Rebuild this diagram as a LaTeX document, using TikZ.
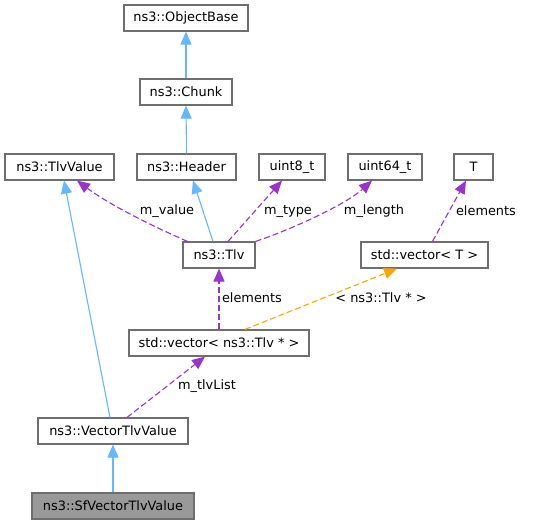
\documentclass[tikz,border=0pt]{standalone}
\usepackage{fontspec}
\setmainfont{DejaVu Sans}
\usetikzlibrary{arrows.meta,calc}
\definecolor{boxline}{HTML}{6E6E6E}
\definecolor{inh}{HTML}{63B8FF}
\definecolor{usage}{HTML}{9A32CD}
\definecolor{tmpl}{HTML}{FFA500}
\definecolor{curfill}{HTML}{999999}
\begin{document}
\begin{tikzpicture}[x=1pt,y=-1pt,
  cls/.style={draw=boxline,line width=1.2pt,fill=white,minimum height=26pt,inner sep=0pt,font=\fontsize{12.9}{15}\selectfont},
  lbl/.style={inner sep=0pt,font=\fontsize{12.9}{15}\selectfont},
  inhedge/.style={draw=inh,line width=1.1pt,-{Triangle[length=13pt,width=11pt,fill=inh]}},
  useedge/.style={draw=usage,line width=1.1pt,dash pattern=on 6pt off 3pt,-{Triangle[length=13pt,width=11pt,fill=usage]}},
  tmpledge/.style={draw=tmpl,line width=1.1pt,dash pattern=on 6pt off 3pt,-{Triangle[length=13pt,width=11pt,fill=tmpl]}}]
\useasboundingbox (0,0) rectangle (533,524);
\fill[white] (0,0) rectangle (533,524);
\node[cls,minimum width=124pt] (objbase) at (186,18) {ns3::ObjectBase};
\node[cls,minimum width=92pt] (chunk) at (186,92) {ns3::Chunk};
\node[cls,minimum width=109pt] (tlvvalue) at (59.5,167) {ns3::TlvValue};
\node[cls,minimum width=99pt] (header) at (186.5,167) {ns3::Header};
\node[cls,minimum width=66pt] (uinteight) at (292,167) {uint8\_t};
\node[cls,minimum width=74pt] (uintsixfour) at (385,167) {uint64\_t};
\node[cls,minimum width=39pt] (tpar) at (473.5,167) {T};
\node[cls,minimum width=72pt] (tlv) at (219,255) {ns3::Tlv};
\node[cls,minimum width=127pt] (vect) at (424.5,255) {std::vector< T >};
\node[cls,minimum width=180pt] (vectlv) at (219,343) {std::vector< ns3::Tlv * >};
\node[cls,minimum width=150pt] (vtv) at (113,431) {ns3::VectorTlvValue};
\node[cls,minimum width=162pt,fill=curfill] (sfvtv) at (113,506) {ns3::SfVectorTlvValue};

\draw[inhedge] (chunk.north) -- (objbase.south);
\draw[inhedge] (header.north) -- (chunk.south);
\draw[inhedge] ($(tlv.north)+(-6,0)$) -- ($(header.south)+(6.5,0)$);
\draw[inhedge] ($(vtv.north)+(-3,0)$) -- ($(tlvvalue.south)+(4.5,0)$);
\draw[inhedge] (sfvtv.north) -- (vtv.south);

\draw[useedge] ($(tlv.north west)+(5,0)$) .. controls (150,225) and (110,205) .. ($(tlvvalue.south)+(17.5,0)$);
\draw[useedge] ($(tlv.north)+(9,0)$) -- ($(uinteight.south)+(-10,0)$);
\draw[useedge] (tlv.north east) .. controls (290,230) and (345,205) .. ($(uintsixfour.south)+(-13,0)$);
\draw[useedge] ($(vect.north)+(8,0)$) -- ($(tpar.south)+(-7.5,0)$);
\draw[useedge] (vectlv.north) -- (tlv.south);
\draw[tmpledge] ($(vectlv.north)+(26,0)$) -- ($(vect.south)+(-27.5,0)$);
\draw[useedge] ($(vtv.north)+(14,0)$) -- ($(vectlv.south)+(-14,0)$);

\node[lbl] (lmvalue) at (167,211) {m\_value};
\node[lbl] (lmtype) at (288,211) {m\_type};
\node[lbl] (lmlength) at (374,211) {m\_length};
\node[lbl] (lelemt) at (486,211) {elements};
\node[lbl] (lelemtlv) at (252,298) {elements};
\node[lbl] (ltmpl) at (381,298) {< ns3::Tlv * >};
\node[lbl] (ltlvlist) at (207,386) {m\_tlvList};
\end{tikzpicture}
\end{document}
